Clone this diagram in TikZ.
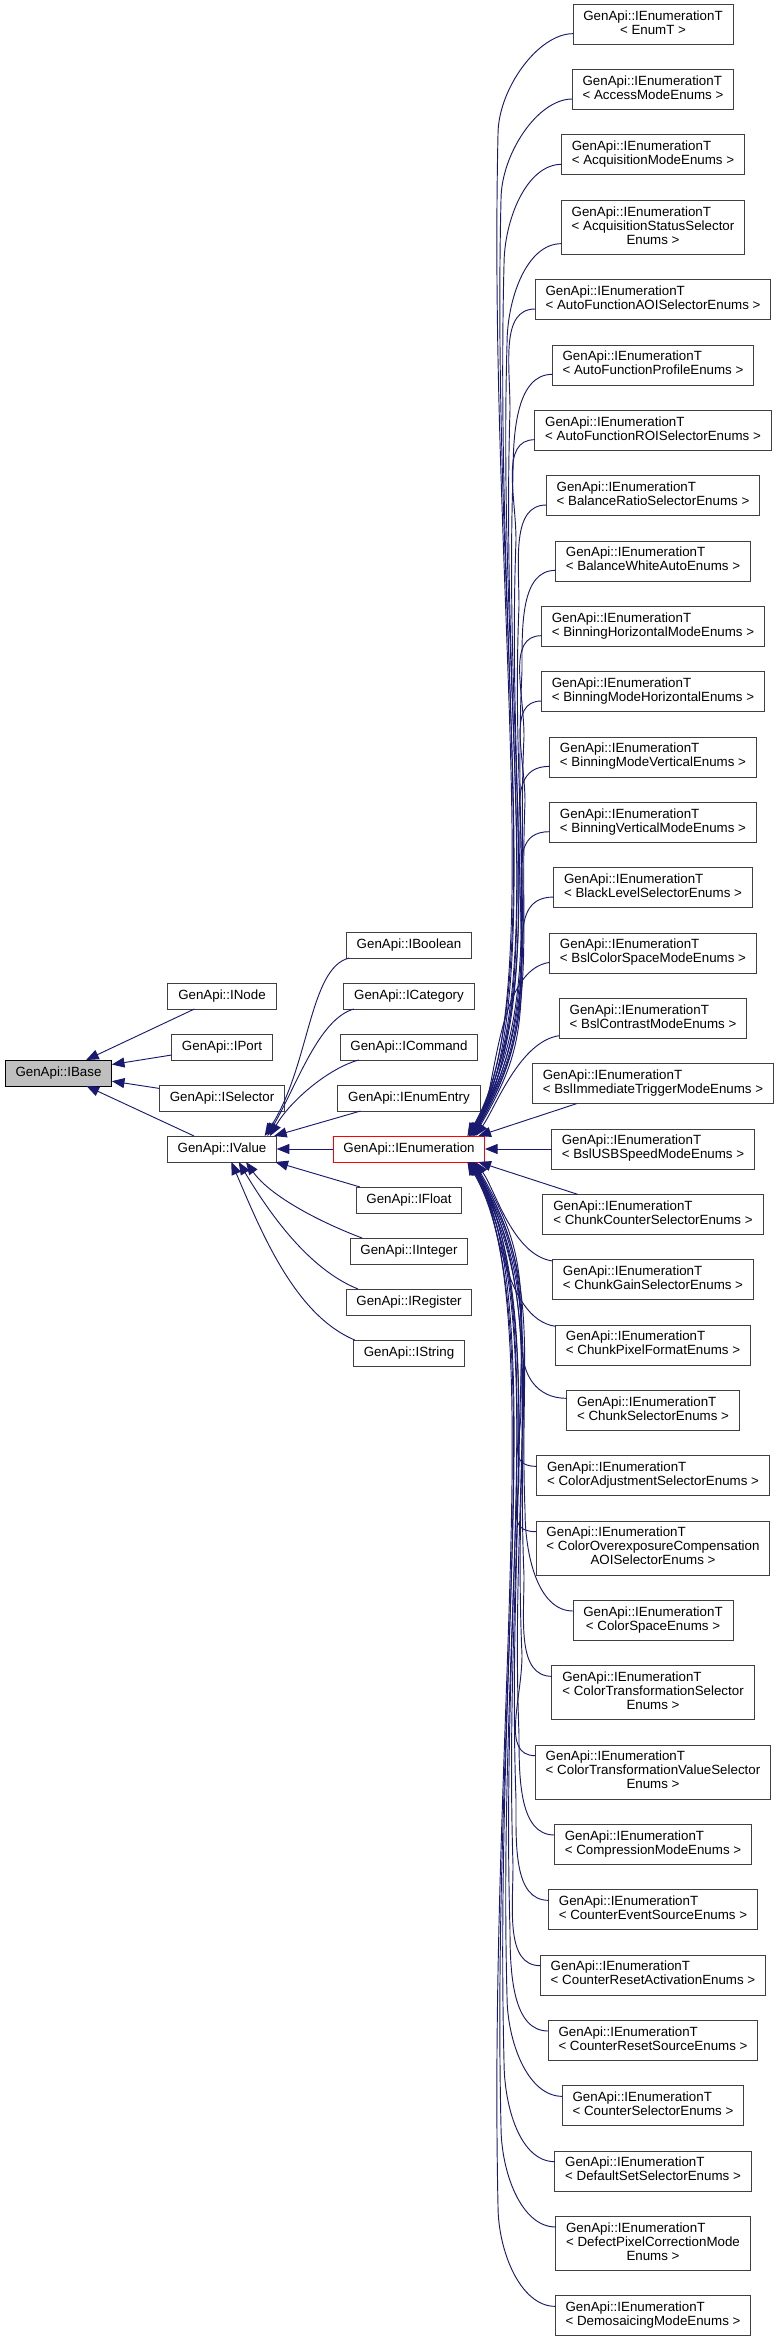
\documentclass[tikz,border=0pt]{standalone}
\usepackage{fontspec}
\setmainfont{Liberation Sans}
\usepackage{tikz}
\usetikzlibrary{arrows.meta,positioning,calc}
\definecolor{edgeBlue}{HTML}{191970}
\definecolor{baseGray}{HTML}{BFBFBF}
\definecolor{frameGray}{HTML}{404040}
\newcommand{\tplabel}[2]{\begin{tabular}{@{}l@{}}#1\\\multicolumn{1}{@{}c@{}}{#2}\end{tabular}}

\begin{document}
\begin{tikzpicture}[
    x=0.75pt, y=-0.75pt,
    >={Triangle[length=9.5pt,width=7.5pt]},
    node distance=18.75pt,
    every node/.style={font=\fontsize{10}{10.5}\selectfont},
    classbox/.style={draw=frameGray, line width=0.75pt, fill=white, inner xsep=7.75pt, inner ysep=2pt, outer sep=0pt, minimum height=19.5pt},
    basebox/.style={classbox, draw=black, fill=baseGray},
    truncbox/.style={classbox, draw=red},
    tmplbox/.style={classbox, minimum height=30pt},
    tallbox/.style={classbox, minimum height=40.5pt},
    inherit/.style={->, draw=edgeBlue, line width=0.7pt}
]
    \useasboundingbox (0,0) rectangle (779,2340);

    \node[basebox] (ibase) at (58.5,1073) {GenApi::IBase};
    \node[classbox] (ivalue) at (222,1149) {GenApi::IValue};
    \node[classbox, above=of ivalue] (iselector) {GenApi::ISelector};
    \node[classbox, above=of iselector] (iport) {GenApi::IPort};
    \node[classbox, above=of iport] (inode) {GenApi::INode};

    \node[truncbox] (ienum) at (409,1149) {GenApi::IEnumeration};
    \node[classbox, above=of ienum] (ienumentry) {GenApi::IEnumEntry};
    \node[classbox, above=of ienumentry] (icommand) {GenApi::ICommand};
    \node[classbox, above=of icommand] (icategory) {GenApi::ICategory};
    \node[classbox, above=of icategory] (iboolean) {GenApi::IBoolean};
    \node[classbox, below=of ienum] (ifloat) {GenApi::IFloat};
    \node[classbox, below=of ifloat] (iinteger) {GenApi::IInteger};
    \node[classbox, below=of iinteger] (iregister) {GenApi::IRegister};
    \node[classbox, below=of iregister] (istring) {GenApi::IString};

    \node[tmplbox] (bslUSB) at (653,1149) {\tplabel{GenApi::IEnumerationT}{< BslUSBSpeedModeEnums >}};
    \node[tmplbox, above=19pt of bslUSB] (bslTrigger) {\tplabel{GenApi::IEnumerationT}{< BslImmediateTriggerModeEnums >}};
    \node[tmplbox, above=19pt of bslTrigger] (bslContrast) {\tplabel{GenApi::IEnumerationT}{< BslContrastModeEnums >}};
    \node[tmplbox, above=19pt of bslContrast] (bslColorSpace) {\tplabel{GenApi::IEnumerationT}{< BslColorSpaceModeEnums >}};
    \node[tmplbox, above=19pt of bslColorSpace] (blackLevel) {\tplabel{GenApi::IEnumerationT}{< BlackLevelSelectorEnums >}};
    \node[tmplbox, above=19pt of blackLevel] (binVerMode) {\tplabel{GenApi::IEnumerationT}{< BinningVerticalModeEnums >}};
    \node[tmplbox, above=19pt of binVerMode] (binModeVer) {\tplabel{GenApi::IEnumerationT}{< BinningModeVerticalEnums >}};
    \node[tmplbox, above=19pt of binModeVer] (binModeHor) {\tplabel{GenApi::IEnumerationT}{< BinningModeHorizontalEnums >}};
    \node[tmplbox, above=19pt of binModeHor] (binHorMode) {\tplabel{GenApi::IEnumerationT}{< BinningHorizontalModeEnums >}};
    \node[tmplbox, above=19pt of binHorMode] (balWhite) {\tplabel{GenApi::IEnumerationT}{< BalanceWhiteAutoEnums >}};
    \node[tmplbox, above=19pt of balWhite] (balRatio) {\tplabel{GenApi::IEnumerationT}{< BalanceRatioSelectorEnums >}};
    \node[tmplbox, above=19pt of balRatio] (afROI) {\tplabel{GenApi::IEnumerationT}{< AutoFunctionROISelectorEnums >}};
    \node[tmplbox, above=19pt of afROI] (afProfile) {\tplabel{GenApi::IEnumerationT}{< AutoFunctionProfileEnums >}};
    \node[tmplbox, above=19pt of afProfile] (afAOI) {\tplabel{GenApi::IEnumerationT}{< AutoFunctionAOISelectorEnums >}};
    \node[tallbox, above=19pt of afAOI] (acqStatus) {\tplabel{GenApi::IEnumerationT\\< AcquisitionStatusSelector}{Enums >}};
    \node[tmplbox, above=19pt of acqStatus] (acqMode) {\tplabel{GenApi::IEnumerationT}{< AcquisitionModeEnums >}};
    \node[tmplbox, above=19pt of acqMode] (accessMode) {\tplabel{GenApi::IEnumerationT}{< AccessModeEnums >}};
    \node[tmplbox, above=19pt of accessMode] (enumT) {\tplabel{GenApi::IEnumerationT}{< EnumT >}};

    \node[tmplbox, below=19pt of bslUSB] (chunkCounter) {\tplabel{GenApi::IEnumerationT}{< ChunkCounterSelectorEnums >}};
    \node[tmplbox, below=19pt of chunkCounter] (chunkGain) {\tplabel{GenApi::IEnumerationT}{< ChunkGainSelectorEnums >}};
    \node[tmplbox, below=19pt of chunkGain] (chunkPixel) {\tplabel{GenApi::IEnumerationT}{< ChunkPixelFormatEnums >}};
    \node[tmplbox, below=19pt of chunkPixel] (chunkSel) {\tplabel{GenApi::IEnumerationT}{< ChunkSelectorEnums >}};
    \node[tmplbox, below=19pt of chunkSel] (colorAdj) {\tplabel{GenApi::IEnumerationT}{< ColorAdjustmentSelectorEnums >}};
    \node[tallbox, below=19pt of colorAdj] (colorOver) {\tplabel{GenApi::IEnumerationT\\< ColorOverexposureCompensation}{AOISelectorEnums >}};
    \node[tmplbox, below=19pt of colorOver] (colorSpace) {\tplabel{GenApi::IEnumerationT}{< ColorSpaceEnums >}};
    \node[tallbox, below=19pt of colorSpace] (colorTrSel) {\tplabel{GenApi::IEnumerationT\\< ColorTransformationSelector}{Enums >}};
    \node[tallbox, below=19pt of colorTrSel] (colorTrVal) {\tplabel{GenApi::IEnumerationT\\< ColorTransformationValueSelector}{Enums >}};
    \node[tmplbox, below=19pt of colorTrVal] (compression) {\tplabel{GenApi::IEnumerationT}{< CompressionModeEnums >}};
    \node[tmplbox, below=19pt of compression] (cntEvent) {\tplabel{GenApi::IEnumerationT}{< CounterEventSourceEnums >}};
    \node[tmplbox, below=19pt of cntEvent] (cntResetAct) {\tplabel{GenApi::IEnumerationT}{< CounterResetActivationEnums >}};
    \node[tmplbox, below=19pt of cntResetAct] (cntResetSrc) {\tplabel{GenApi::IEnumerationT}{< CounterResetSourceEnums >}};
    \node[tmplbox, below=19pt of cntResetSrc] (cntSel) {\tplabel{GenApi::IEnumerationT}{< CounterSelectorEnums >}};
    \node[tmplbox, below=19pt of cntSel] (defaultSet) {\tplabel{GenApi::IEnumerationT}{< DefaultSetSelectorEnums >}};
    \node[tallbox, below=19pt of defaultSet] (defectPixel) {\tplabel{GenApi::IEnumerationT\\< DefectPixelCorrectionMode}{Enums >}};
    \node[tmplbox, below=19pt of defectPixel] (demosaic) {\tplabel{GenApi::IEnumerationT}{< DemosaicingModeEnums >}};

    \draw[inherit] (inode) -- (ibase);
    \draw[inherit] (iport) -- (ibase);
    \draw[inherit] (iselector) -- (ibase);
    \draw[inherit] (ivalue) -- (ibase);

    \draw[inherit] ([xshift=2pt]iboolean.south west) .. controls +(-40,10) and +(45,-70) .. ([xshift=-9pt]ivalue.north east);
    \draw[inherit] ([xshift=7.5pt]icategory.south west) .. controls +(-35,10) and +(30,-52) .. ([xshift=-7pt]ivalue.north east);
    \draw[inherit] ([xshift=14pt]icommand.south west) .. controls +(-30,8) and +(20,-35) .. ([xshift=-5pt]ivalue.north east);
    \draw[inherit] ([xshift=17pt]ienumentry.south west) -- ([xshift=-2pt]ivalue.north east);
    \draw[inherit] (ienum) -- (ivalue);
    \draw[inherit] ([xshift=3pt]ifloat.north west) -- ([xshift=-1pt]ivalue.south east);
    \draw[inherit] ([xshift=9pt]iinteger.north west) .. controls +(-40,-15) and +(25,35) .. ([xshift=-23pt]ivalue.south east);
    \draw[inherit] ([xshift=9pt]iregister.north west) .. controls +(-50,-20) and +(30,50) .. ([xshift=-28.5pt]ivalue.south east);
    \draw[inherit] ([xshift=1pt]istring.north west) .. controls +(-60,-25) and +(30,70) .. ([xshift=-34pt]ivalue.south east);

    \draw[inherit] ([yshift=8pt]enumT.south west) .. controls +(-35,0) and +(0,-45) .. ($(enumT.south -| 498,0)+(0,90)$) .. controls +(-10,451) and +(60:120pt) .. ([xshift=-12pt]ienum.north east);
    \draw[inherit] ([yshift=8pt]accessMode.south west) .. controls +(-35,0) and +(0,-45) .. ($(accessMode.south -| 501,0)+(0,90)$) .. controls +(-10,421) and +(60:120pt) .. ([xshift=-11pt]ienum.north east);
    \draw[inherit] ([yshift=8pt]acqMode.south west) .. controls +(-35,0) and +(0,-45) .. ($(acqMode.south -| 504,0)+(0,90)$) .. controls +(-10,392) and +(60:120pt) .. ([xshift=-13pt]ienum.north east);
    \draw[inherit] ([yshift=8pt]acqStatus.south west) .. controls +(-35,0) and +(0,-45) .. ($(acqStatus.south -| 507,0)+(0,90)$) .. controls +(-10,356) and +(60:120pt) .. ([xshift=-10pt]ienum.north east);
    \draw[inherit] ([yshift=8pt]afAOI.south west) .. controls +(-35,0) and +(0,-45) .. ($(afAOI.south -| 510,0)+(0,90)$) .. controls +(-10,327) and +(60:120pt) .. ([xshift=-12pt]ienum.north east);
    \draw[inherit] ([yshift=8pt]afProfile.south west) .. controls +(-35,0) and +(0,-45) .. ($(afProfile.south -| 513,0)+(0,90)$) .. controls +(-10,297) and +(60:120pt) .. ([xshift=-11pt]ienum.north east);
    \draw[inherit] ([yshift=8pt]afROI.south west) .. controls +(-35,0) and +(0,-45) .. ($(afROI.south -| 516,0)+(0,90)$) .. controls +(-10,268) and +(60:120pt) .. ([xshift=-13pt]ienum.north east);
    \draw[inherit] ([yshift=8pt]balRatio.south west) .. controls +(-35,0) and +(0,-45) .. ($(balRatio.south -| 519,0)+(0,90)$) .. controls +(-10,239) and +(60:120pt) .. ([xshift=-10pt]ienum.north east);
    \draw[inherit] ([yshift=8pt]balWhite.south west) .. controls +(-35,0) and +(0,-45) .. ($(balWhite.south -| 522,0)+(0,90)$) .. controls +(-10,209) and +(60:115pt) .. ([xshift=-12pt]ienum.north east);
    \draw[inherit] ([yshift=8pt]binHorMode.south west) .. controls +(-35,0) and +(0,-45) .. ($(binHorMode.south -| 524,0)+(0,90)$) .. controls +(-8,180) and +(60:110pt) .. ([xshift=-11pt]ienum.north east);
    \draw[inherit] ([yshift=8pt]binModeHor.south west) .. controls +(-35,0) and +(0,-45) .. ($(binModeHor.south -| 525,0)+(0,90)$) .. controls +(-6,150) and +(60:100pt) .. ([xshift=-9pt]ienum.north east);
    \draw[inherit] ([yshift=8pt]binModeVer.south west) .. controls +(-30,0) and +(0,-30) .. ($(binModeVer.south -| 519,0)+(0,45)$) .. controls +(0,141) and +(60:97pt) .. ([xshift=-10pt]ienum.north east);
    \draw[inherit] ([yshift=8pt]binVerMode.south west) .. controls +(-30,0) and +(0,-30) .. ($(binVerMode.south -| 521,0)+(0,45)$) .. controls +(0,112) and +(60:82pt) .. ([xshift=-9pt]ienum.north east);
    \draw[inherit] ([yshift=8pt]blackLevel.south west) .. controls +(-30,0) and +(0,-30) .. ($(blackLevel.south -| 522,0)+(0,45)$) .. controls +(0,82) and +(60:64pt) .. ([xshift=-8pt]ienum.north east);
    \draw[inherit] ([yshift=8pt]bslColorSpace.south west) .. controls +(188:40pt) and +(65:40pt) .. ([xshift=-8pt]ienum.north east);
    \draw[inherit] ([yshift=2pt]bslContrast.south west) .. controls +(188:30pt) and +(55:26pt) .. ([xshift=-7pt]ienum.north east);
    \draw[inherit] ([xshift=33pt]bslTrigger.south west) -- ([xshift=-5pt]ienum.north east);
    \draw[inherit] (bslUSB) -- (ienum);
    \draw[inherit] ([xshift=26pt]chunkCounter.north west) -- ([xshift=-5pt]ienum.south east);
    \draw[inherit] ([yshift=-1pt]chunkGain.north west) .. controls +(172:30pt) and +(-55:26pt) .. ([xshift=-7pt]ienum.south east);
    \draw[inherit] ([yshift=-1pt]chunkPixel.north west) .. controls +(172:40pt) and +(-65:40pt) .. ([xshift=-8pt]ienum.south east);
    \draw[inherit] ([yshift=-6pt]chunkSel.north west) .. controls +(-30,0) and +(0,30) .. ($(chunkSel.north -| 522,0)+(0,-45)$) .. controls +(0,-82) and +(-60:64pt) .. ([xshift=-8pt]ienum.south east);
    \draw[inherit] ([yshift=-8pt]colorAdj.north west) .. controls +(-30,0) and +(0,30) .. ($(colorAdj.north -| 521,0)+(0,-45)$) .. controls +(0,-112) and +(-60:82pt) .. ([xshift=-9pt]ienum.south east);
    \draw[inherit] ([yshift=-8pt]colorOver.north west) .. controls +(-30,0) and +(0,30) .. ($(colorOver.north -| 519,0)+(0,-45)$) .. controls +(0,-141) and +(-60:97pt) .. ([xshift=-10pt]ienum.south east);
    \draw[inherit] ([yshift=-8pt]colorSpace.north west) .. controls +(-35,0) and +(0,45) .. ($(colorSpace.north -| 525,0)+(0,-90)$) .. controls +(-6,-157) and +(-60:105pt) .. ([xshift=-9pt]ienum.south east);
    \draw[inherit] ([yshift=-8pt]colorTrSel.north west) .. controls +(-35,0) and +(0,45) .. ($(colorTrSel.north -| 524,0)+(0,-90)$) .. controls +(-8,-186) and +(-60:112pt) .. ([xshift=-11pt]ienum.south east);
    \draw[inherit] ([yshift=-8pt]colorTrVal.north west) .. controls +(-35,0) and +(0,45) .. ($(colorTrVal.north -| 522,0)+(0,-90)$) .. controls +(-10,-222) and +(-60:120pt) .. ([xshift=-12pt]ienum.south east);
    \draw[inherit] ([yshift=-8pt]compression.north west) .. controls +(-35,0) and +(0,45) .. ($(compression.north -| 519,0)+(0,-90)$) .. controls +(-10,-258) and +(-60:120pt) .. ([xshift=-10pt]ienum.south east);
    \draw[inherit] ([yshift=-8pt]cntEvent.north west) .. controls +(-35,0) and +(0,45) .. ($(cntEvent.north -| 516,0)+(0,-90)$) .. controls +(-10,-287) and +(-60:120pt) .. ([xshift=-13pt]ienum.south east);
    \draw[inherit] ([yshift=-8pt]cntResetAct.north west) .. controls +(-35,0) and +(0,45) .. ($(cntResetAct.north -| 513,0)+(0,-90)$) .. controls +(-10,-316) and +(-60:120pt) .. ([xshift=-11pt]ienum.south east);
    \draw[inherit] ([yshift=-8pt]cntResetSrc.north west) .. controls +(-35,0) and +(0,45) .. ($(cntResetSrc.north -| 510,0)+(0,-90)$) .. controls +(-10,-346) and +(-60:120pt) .. ([xshift=-12pt]ienum.south east);
    \draw[inherit] ([yshift=-8pt]cntSel.north west) .. controls +(-35,0) and +(0,45) .. ($(cntSel.north -| 507,0)+(0,-90)$) .. controls +(-10,-375) and +(-60:120pt) .. ([xshift=-10pt]ienum.south east);
    \draw[inherit] ([yshift=-8pt]defaultSet.north west) .. controls +(-35,0) and +(0,45) .. ($(defaultSet.north -| 504,0)+(0,-90)$) .. controls +(-10,-405) and +(-60:120pt) .. ([xshift=-13pt]ienum.south east);
    \draw[inherit] ([yshift=-8pt]defectPixel.north west) .. controls +(-35,0) and +(0,45) .. ($(defectPixel.north -| 501,0)+(0,-90)$) .. controls +(-10,-434) and +(-60:120pt) .. ([xshift=-11pt]ienum.south east);
    \draw[inherit] ([yshift=-8pt]demosaic.north west) .. controls +(-35,0) and +(0,45) .. ($(demosaic.north -| 498,0)+(0,-90)$) .. controls +(-10,-470) and +(-60:120pt) .. ([xshift=-12pt]ienum.south east);
\end{tikzpicture}
\end{document}
